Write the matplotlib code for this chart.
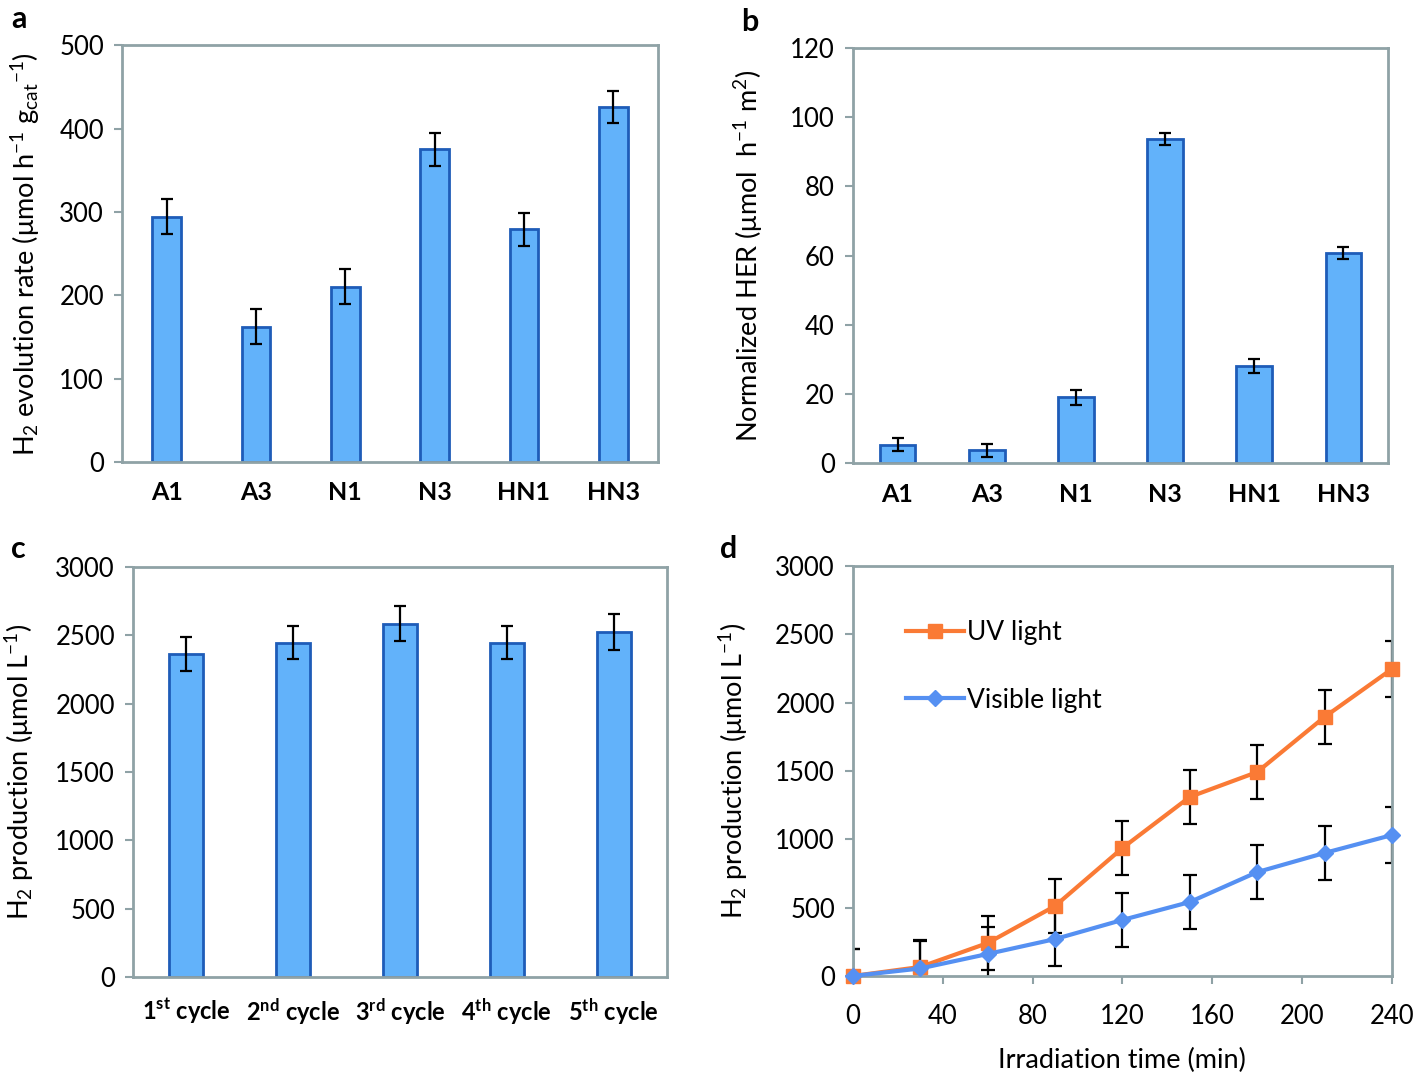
import matplotlib
matplotlib.use('Agg')
import matplotlib.pyplot as plt

plt.rcParams['font.family'] = ['Lato', 'DejaVu Sans']
plt.rcParams['mathtext.default'] = 'regular'
plt.rcParams['font.size'] = 18

# data
samples = ['A1', 'A3', 'N1', 'N3', 'HN1', 'HN3']
rate = [294, 162, 210, 375, 279, 426]
rate_err = [21, 21, 21, 20, 20, 19]
her = [5.3, 3.7, 19.0, 93.8, 28.0, 60.7]
her_err = [1.9, 1.8, 2.2, 1.8, 2.0, 1.7]
cycles = ['1$^{st}$ cycle', '2$^{nd}$ cycle', '3$^{rd}$ cycle', '4$^{th}$ cycle', '5$^{th}$ cycle']
cycle_prod = [2365, 2445, 2585, 2445, 2525]
cycle_err = [125, 120, 130, 120, 130]
time_min = [0, 30, 60, 90, 120, 150, 180, 210, 240]
uv = [0, 66, 241, 512, 936, 1310, 1492, 1895, 2246]
vis = [0, 55, 161, 270, 410, 541, 760, 900, 1031]
uv_err = [200, 200, 200, 200, 200, 200, 200, 200, 205]
vis_err = [200, 200, 200, 200, 200, 200, 200, 200, 205]

bar_fc = '#62B2FA'
bar_ec = '#1E5CB8'
spine_c = '#8FA2A6'
orange = '#FA7A35'
blue = '#5590F2'

fig = plt.figure(figsize=(14.18, 10.77), dpi=100)
ax_a = fig.add_axes([0.0860, 0.571, 0.378, 0.387])
ax_b = fig.add_axes([0.6015, 0.570, 0.3773, 0.3853])
ax_c = fig.add_axes([0.0938, 0.0929, 0.3766, 0.3807])
ax_d = fig.add_axes([0.6015, 0.0938, 0.3801, 0.3807])


def style(ax):
    for s in ax.spines.values():
        s.set_color(spine_c)
        s.set_linewidth(2)
    ax.tick_params(axis='y', direction='out', length=6, width=1.5, color=spine_c, pad=7,
                   labelsize=18.5)
    ax.tick_params(axis='x', length=0, pad=14)


def bars(ax, labels, vals, errs, width, ylim, step):
    x = list(range(len(vals)))
    ax.bar(x, vals, width=width, color=bar_fc, edgecolor=bar_ec, linewidth=2, zorder=2)
    ax.errorbar(x, vals, yerr=errs, fmt='none', ecolor='black', elinewidth=1.6,
                capsize=4.5, capthick=1.6, zorder=3)
    ax.set_xlim(-0.5, len(vals) - 0.5)
    ax.set_ylim(0, ylim)
    ax.set_yticks(range(0, ylim + 1, step))
    ax.set_xticks(x, labels, fontweight='bold')
    style(ax)


bars(ax_a, samples, rate, rate_err, 0.32, 500, 100)
ax_a.set_ylabel('H$_2$ evolution rate (μmol h$^{-1}$ g$_{cat}$$^{-1}$)', labelpad=12, fontsize=19.5)

bars(ax_b, samples, her, her_err, 0.40, 120, 20)
ax_b.set_ylabel('Normalized HER (μmol  h$^{-1}$ m$^2$)', labelpad=18, fontsize=19.5)

bars(ax_c, cycles, cycle_prod, cycle_err, 0.32, 3000, 500)
ax_c.set_ylabel('H$_2$ production (μmol L$^{-1}$)', labelpad=14, fontsize=19.5)
for t in ax_c.get_xticklabels():
    t.set_fontsize(17)

# panel d
ax_d.errorbar(time_min, uv, yerr=uv_err, fmt='none', ecolor='black', elinewidth=1.6,
              capsize=5, capthick=1.6, zorder=2)
ax_d.errorbar(time_min, vis, yerr=vis_err, fmt='none', ecolor='black', elinewidth=1.6,
              capsize=5, capthick=1.6, zorder=2)
ax_d.plot(time_min, uv, color=orange, lw=3, marker='s', ms=10, label='UV light',
          clip_on=False, zorder=4)
ax_d.plot(time_min, vis, color=blue, lw=3, marker='D', ms=8, label='Visible light',
          clip_on=False, zorder=4)
ax_d.set_xlim(0, 240)
ax_d.set_ylim(0, 3000)
ax_d.set_xticks(range(0, 241, 40))
ax_d.set_yticks(range(0, 3001, 500))
style(ax_d)
ax_d.tick_params(axis='x', direction='out', length=6, width=1.5, color=spine_c, pad=14,
                 labelsize=18.5)
ax_d.set_xlabel('Irradiation time (min)', labelpad=14, fontsize=19.5)
ax_d.set_ylabel('H$_2$ production (μmol L$^{-1}$)', labelpad=18, fontsize=19.5)
ax_d.legend(loc='upper left', bbox_to_anchor=(0.055, 0.925), frameon=False,
            handlelength=2.2, handletextpad=0.1, labelspacing=1.6, fontsize=19)

# panel letters
for lab, (x, y) in zip('abcd', [(0.008, 0.982), (0.523, 0.980), (0.008, 0.490), (0.508, 0.490)]):
    fig.text(x, y, lab, fontsize=22, fontweight='bold', va='center')

fig.savefig('out.png', dpi=100)
